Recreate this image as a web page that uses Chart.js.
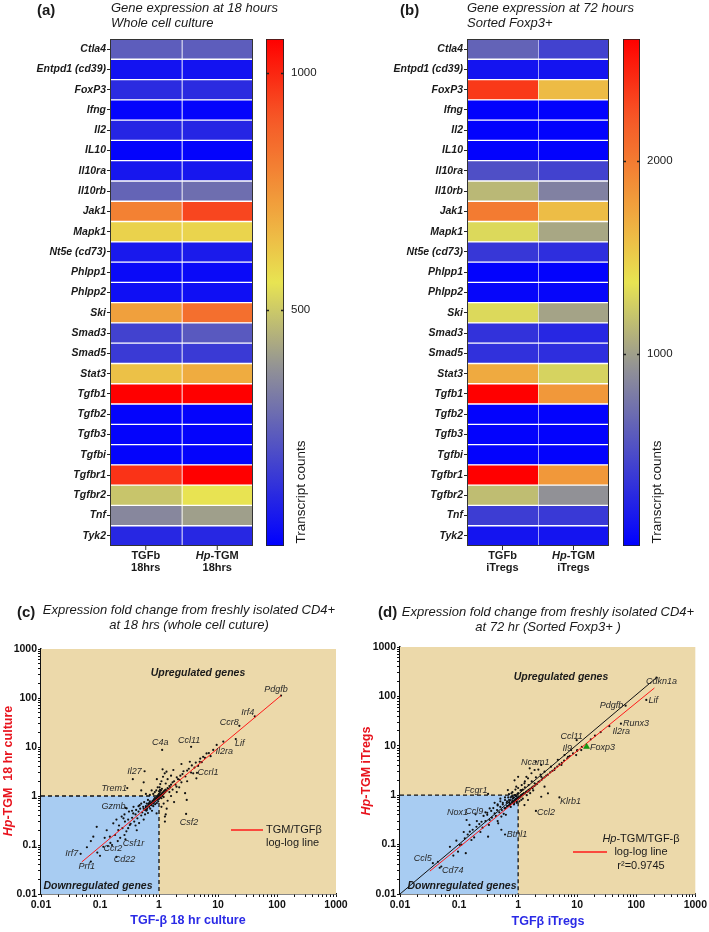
<!DOCTYPE html>
<html>
<head>
<meta charset="utf-8">
<script src="https://cdn.jsdelivr.net/npm/chart.js@4.4.1/dist/chart.umd.min.js"></script>
<style>
  html, body { margin: 0; padding: 0; background: #fff; }
  #page { position: relative; width: 709px; height: 932px; overflow: hidden; }
  #page canvas { position: absolute; left: 0; top: 0; }
</style>
</head>
<body>
<div id="page">
  <canvas id="heatA" width="709" height="932"></canvas>
  <canvas id="barA" width="709" height="932"></canvas>
  <canvas id="heatB" width="709" height="932"></canvas>
  <canvas id="barB" width="709" height="932"></canvas>
  <canvas id="scatC" width="709" height="932"></canvas>
  <canvas id="scatD" width="709" height="932"></canvas>
</div>
<script>
// ---- heatmap data ----
const genes = ['Ctla4', 'Entpd1 (cd39)', 'FoxP3', 'Ifng', 'Il2', 'IL10', 'Il10ra', 'Il10rb', 'Jak1', 'Mapk1',
  'Nt5e (cd73)', 'Phlpp1', 'Phlpp2', 'Ski', 'Smad3', 'Smad5', 'Stat3', 'Tgfb1', 'Tgfb2', 'Tgfb3', 'Tgfbi',
  'Tgfbr1', 'Tgfbr2', 'Tnf', 'Tyk2'];
const colsA = [['TGFb', '18hrs'], ['Hp-TGM', '18hrs']];
const colsB = [['TGFb', 'iTregs'], ['Hp-TGM', 'iTregs']];
const tgfb18 = [240, 50, 110, 10, 95, 10, 60, 260, 800, 600, 65, 25, 40, 720, 170, 150, 640, 1072, 10, 10, 10, 975, 490, 350, 100];
const hptgm18 = [240, 50, 110, 10, 95, 10, 60, 285, 940, 595, 70, 25, 40, 845, 230, 150, 690, 1072, 10, 10, 10, 1072, 560, 405, 100];
const tgfbReg = [630, 130, 2370, 20, 20, 20, 500, 1135, 2000, 1310, 350, 20, 40, 1310, 315, 310, 1710, 2635, 20, 20, 20, 2635, 1160, 390, 130];
const hptgmReg = [420, 130, 1610, 20, 20, 20, 420, 820, 1600, 1040, 290, 20, 40, 1020, 250, 290, 1280, 1820, 20, 20, 20, 1820, 920, 360, 130];
const maxA = 1072, maxB = 2635;
const ticksA = [500, 1000];
const ticksB = [1000, 2000];

// ---- scatter data (fold change vs freshly isolated CD4+) ----
const logTicks = [0.01, 0.1, 1, 10, 100, 1000];
const pointsC = [
  [0.077,0.148],[0.088,0.235],[0.114,0.092],[0.147,0.148],[0.168,0.277],[0.204,0.202],[0.233,0.38],[0.265,0.30],
  [0.283,0.56],[0.32,0.256],[0.366,0.44],[0.42,0.20],[0.47,0.65],[0.58,0.52],[0.65,0.83],[0.75,0.65],[0.85,0.91],
  [0.91,0.44],[0.06,0.09],[0.1,0.06],[0.12,0.14],[0.13,0.2],[0.15,0.11],[0.18,0.16],[0.19,0.33],[0.21,0.25],
  [0.22,0.14],[0.24,0.22],[0.26,0.42],[0.28,0.19],[0.3,0.33],[0.31,0.48],[0.33,0.27],[0.35,0.36],[0.37,0.6],
  [0.38,0.3],[0.4,0.42],[0.41,0.52],[0.43,0.35],[0.45,0.48],[0.46,0.28],[0.48,0.55],[0.5,0.4],[0.5,0.7],
  [0.52,0.46],[0.54,0.6],[0.55,0.33],[0.56,0.75],[0.58,0.42],[0.6,0.62],[0.61,0.5],[0.62,0.7],[0.63,0.56],
  [0.65,0.45],[0.66,0.68],[0.68,0.6],[0.7,0.78],[0.71,0.55],[0.72,0.66],[0.74,0.72],[0.76,0.5],[0.78,0.8],
  [0.8,0.7],[0.8,0.62],[0.82,0.85],[0.84,0.76],[0.86,0.68],[0.88,0.8],[0.9,0.9],[0.92,0.72],[0.94,0.84],
  [0.96,0.95],[0.97,0.78],[0.98,0.88],[0.55,0.55],[0.6,0.58],[0.65,0.62],[0.7,0.7],[0.75,0.74],[0.8,0.78],
  [0.85,0.82],[0.9,0.86],[0.95,0.92],[0.68,0.72],[0.73,0.68],[0.78,0.73],[0.83,0.8],[0.88,0.9],[0.93,0.96],
  [0.99,0.97],[0.62,0.52],[0.45,0.62],[0.35,0.5],[0.25,0.35],[0.16,0.1],[0.09,0.07],[0.07,0.12],[0.2,0.12],
  [0.3,0.22],[0.4,0.25],[0.26,0.16],
  [1.0,1.0],[1.02,0.98],[1.05,1.06],[1.08,1.02],[1.1,1.12],[1.12,1.05],[1.15,1.18],[1.18,1.1],[1.2,1.25],
  [1.22,1.15],[1.25,1.3],[1.28,1.2],[1.3,1.35],[1.35,1.28],[1.4,1.45],[1.45,1.38],[1.5,1.6],[1.55,1.5],
  [1.6,1.7],[1.0,1.1],[1.03,0.92],[1.06,0.95],[1.1,0.9],[1.15,1.0],[1.2,0.95],[0.98,1.05],[0.96,1.02],
  [1.04,1.2],[1.08,1.3],[1.12,1.4],[1.0,1.25],[1.02,1.5],[1.05,1.75],[1.1,2.0],[1.17,2.47],[1.34,3.13],
  [1.75,3.39],[1.98,1.55],[2.25,2.13],[2.77,1.14],[2.95,0.83],[3.33,5.0],[3.8,2.9],[4.3,2.29],[4.9,5.0],
  [5.6,6.3],[6.4,7.4],[8.3,8.7],[9.5,11],[1.26,0.38],[1.3,0.42],[1.26,0.30],[1.04,1.33],
  [1.7,1.9],[1.8,2.0],[1.9,1.7],[2.0,2.4],[2.1,2.2],[2.3,2.6],[2.4,1.9],[2.5,2.8],[2.6,3.2],[2.8,2.5],
  [3.0,3.3],[3.2,3.6],[3.5,3.0],[3.6,4.2],[4.0,3.8],[4.2,4.8],[4.6,4.1],[5.0,5.8],[5.3,4.9],[6.0,6.0],
  [7.0,7.5],[7.5,6.5],[1.3,1.8],[1.4,2.2],[1.5,1.2],[1.6,1.0],[1.7,1.35],[1.8,0.75],[2.0,1.2],[2.2,1.5],
  [1.2,0.7],[1.4,0.8],[1.1,0.6],[1.35,0.55],[1.6,2.6],[1.25,2.9],[1.15,3.5],[2.4,4.5],[3.0,2.0],[0.9,1.3],
  [0.85,1.2],[0.95,1.5],[0.8,1.1],[0.7,1.05],[0.75,1.3],[0.92,2.2],[0.6,1.1],[0.5,1.3],[0.36,2.2],[0.55,1.9]
];
const geneNamesC = ['Pdgfb', 'Irf4', 'Ccr8', 'Lif', 'Il2ra', 'C4a', 'Ccl11', 'Ccrl1', 'Il27', 'Trem1', 'Gzmb',
  'Csf2', 'Csf1r', 'Ccr2', 'Cd22', 'Irf7', 'Prf1'];
const geneXC = [117, 42, 23, 20, 12.3, 1.13, 3.5, 4.4, 0.57, 0.29, 0.27, 2.88, 0.27, 0.136, 0.19, 0.047, 0.07];
const geneYC = [112, 42, 27, 14.5, 12.9, 8.7, 10.1, 2.97, 3.2, 1.45, 0.57, 0.43, 0.13, 0.095, 0.057, 0.066, 0.046];
const fitC = [[0.049, 0.045], [117, 112]];

const pointsD = [
  [0.13,0.067],[0.103,0.098],[0.125,0.134],[0.162,0.124],[0.152,0.183],[0.197,0.23],[0.24,0.29],[0.134,0.315],
  [0.33,0.315],[0.40,0.43],[0.46,0.27],[0.52,0.37],[0.59,0.54],[0.72,0.63],[0.40,0.70],[0.33,0.54],[0.82,0.86],
  [0.77,1.09],[0.67,1.27],[0.52,0.2],[0.31,0.145],[0.096,0.072],[0.05,0.036],[0.044,0.045],
  [0.07,0.09],[0.08,0.06],[0.09,0.12],[0.11,0.1],[0.14,0.16],[0.17,0.2],[0.18,0.14],[0.2,0.3],[0.22,0.26],
  [0.25,0.22],[0.26,0.38],[0.28,0.3],[0.3,0.4],[0.32,0.25],[0.35,0.48],[0.36,0.35],[0.38,0.55],[0.42,0.38],
  [0.44,0.5],[0.45,0.62],[0.48,0.45],[0.5,0.58],[0.5,0.75],[0.53,0.5],[0.55,0.65],[0.57,0.42],[0.6,0.8],
  [0.62,0.55],[0.64,0.7],[0.66,0.6],[0.68,0.9],[0.7,0.72],[0.73,0.8],[0.75,0.58],[0.78,0.95],[0.8,0.75],
  [0.84,0.9],[0.86,0.7],[0.88,1.0],[0.9,0.82],[0.93,0.95],[0.95,0.75],[0.97,1.05],[0.23,0.18],[0.15,0.25],
  [0.12,0.18],[0.45,0.3],[0.62,0.4],[0.28,0.45],
  [0.6,0.55],[0.65,0.6],[0.7,0.62],[0.72,0.68],[0.75,0.66],[0.78,0.72],[0.8,0.7],[0.82,0.76],[0.85,0.74],
  [0.88,0.8],[0.9,0.78],[0.92,0.84],[0.95,0.82],[0.97,0.88],[1.0,0.85],[1.02,0.9],[1.05,0.88],[1.08,0.95],
  [1.1,0.92],[1.12,1.0],[1.15,0.98],[1.18,1.05],[1.2,1.02],[1.25,1.1],[1.3,1.08],[1.35,1.15],[1.4,1.2],
  [1.45,1.18],[1.5,1.28],[1.55,1.25],[1.6,1.35],[1.7,1.42],[1.75,1.38],[1.8,1.5],[1.9,1.55],[2.0,1.65],
  [2.1,1.7],[2.2,1.85],[2.3,1.9],[2.5,2.05],[2.6,2.2],[2.8,2.3],[3.0,2.5],[3.2,2.6],[3.5,2.9],[3.8,3.1],
  [4.2,3.5],[4.6,3.8],[5.0,4.2],[5.5,4.5],[6.0,5.0],[6.8,5.6],[7.5,6.2],[8.5,7.0],[10,8.2],[12,9.5],
  [17,13.5],[20,16],[25,19],
  [0.9,1.0],[1.0,1.1],[1.1,1.25],[1.2,1.3],[0.8,0.95],[0.7,0.8],[1.3,1.45],[1.5,1.6],[1.7,1.9],[2.0,2.3],
  [2.4,2.6],[1.05,0.75],[1.2,0.85],[1.4,1.0],[1.6,1.1],[1.8,1.25],[0.95,0.7],[0.85,0.65],[0.75,0.9],
  [0.65,0.75],[0.55,0.7],[0.6,0.9],[0.5,0.85],[0.45,0.65],[0.8,1.15],[0.9,1.3],[1.0,1.4],[1.15,1.6],
  [1.3,1.9],[0.7,1.05],
  [1.13,1.27],[1.28,1.74],[1.47,2.2],[1.68,2.78],[1.9,3.24],[1.38,2.36],[2.46,2.36],[2.8,3.0],[3.6,3.78],
  [4.7,5.2],[6.1,6.5],[7.9,8.2],[1.9,1.74],[2.8,1.49],[3.2,1.09],[2.46,0.93],[1.47,0.8],[1.28,0.63],
  [1.13,0.8],[2.46,4.1],[2.0,4.8],[1.57,3.5],[0.93,1.49],[0.87,2.0],[1.0,2.36],[4.1,3.24],[5.4,4.1],
  [7.0,6.0],[9.6,6.5],[11.7,8.2]
];
const geneNamesD = ['Cdkn1a', 'Lif', 'Pdgfb', 'Runx3', 'Il2ra', 'Ccl11', 'Il9', 'Ncam1', 'Fcgr1', 'Klrb1',
  'Ccl2', 'Nox1', 'Ccl9', 'Btnl1', 'Ccl5', 'Cd74'];
const geneXD = [220, 148, 66, 55, 35, 9.8, 10, 2.2, 0.31, 5, 2.0, 0.19, 0.3, 0.6, 0.036, 0.047];
const geneYD = [240, 85, 65, 28, 25, 13, 7.9, 3.3, 1.06, 0.9, 0.48, 0.41, 0.44, 0.16, 0.042, 0.034];
const foxp3D = [14.4, 9.6];
const fitD = [[0.032, 0.029], [203, 148]];
const identityD = [[0.01, 0.01], [220, 240]];

// ---- label placement (pixels, relative to each gene's point) ----
const offsetsC = [[-5,-6],[-7,-4],[-10,-3],[4,4],[1,10],[-2,-7],[-2,-6],[11,0],[-10,0],[-13,0],[-12,-1],
  [3,9],[8,4],[5,2],[8,3],[-9,0],[-4,5]];
const offsetsD = [[5,4],[7,1],[-14,0],[15,0],[12,5],[-5,-4],[-10,-2],[-3,-7],[-12,-3],[11,4],[10,2],
  [-18,-2],[-13,-1],[12,0],[-10,-5],[13,3]];

// ---- setup ----
const FONT = 'Arial, "Liberation Sans", Helvetica, sans-serif';
Chart.defaults.font.family = FONT;
Chart.defaults.color = '#1a1a1a';
Chart.defaults.animation = false;
Chart.defaults.responsive = false;
Chart.defaults.devicePixelRatio = 1;
Chart.defaults.events = [];
Chart.defaults.plugins.legend.display = false;
Chart.defaults.plugins.tooltip.enabled = false;

const TAN = 'rgb(236,217,170)';
const BLUE = 'rgb(168,204,242)';

// blue -> grey -> yellow -> orange -> red
const cmapStops = [[0, [0, 0, 255]], [0.35, [145, 145, 150]], [0.52, [232, 228, 82]],
  [0.66, [240, 165, 62]], [0.85, [246, 85, 38]], [1, [255, 0, 0]]];
function cmap(f) {
  f = Math.max(0, Math.min(1, f));
  for (let i = 1; i < cmapStops.length; i++) {
    const [f0, c0] = cmapStops[i - 1], [f1, c1] = cmapStops[i];
    if (f <= f1) {
      const t = (f - f0) / (f1 - f0);
      return 'rgb(' + c0.map((v, k) => Math.round(v + (c1[k] - v) * t)).join(',') + ')';
    }
  }
  return 'rgb(255,0,0)';
}

// text with "Hp" in italics
function txt(ctx, s, x, y, o) {
  o = o || {};
  const size = o.size || 11, w = o.bold ? 'bold ' : '', it = o.italic ? 'italic ' : '';
  const base = it + w + size + 'px ' + FONT;
  const hp = 'italic ' + w + size + 'px ' + FONT;
  const parts = s.startsWith('Hp') ? [['Hp', hp], [s.slice(2), base]] : [[s, base]];
  ctx.save();
  ctx.translate(x, y);
  if (o.rot) ctx.rotate(o.rot);
  ctx.fillStyle = o.color || '#1a1a1a';
  ctx.textBaseline = 'middle';
  ctx.textAlign = 'left';
  let total = 0;
  parts.forEach(p => { ctx.font = p[1]; p.push(ctx.measureText(p[0]).width); total += p[2]; });
  let cx = o.align === 'center' ? -total / 2 : (o.align === 'right' ? -total : 0);
  parts.forEach(p => { ctx.font = p[1]; ctx.fillText(p[0], cx, 0); cx += p[2]; });
  ctx.restore();
}

function heatmap(id, left, right, cols, valsA, valsB, vmax, titles) {
  return new Chart(document.getElementById(id), {
    type: 'bar',
    data: {
      labels: genes,
      datasets: [
        { data: genes.map(() => 1), backgroundColor: valsA.map(v => cmap(v / vmax)) },
        { data: genes.map(() => 1), backgroundColor: valsB.map(v => cmap(v / vmax)) }
      ]
    },
    options: {
      indexAxis: 'y',
      layout: { padding: { left: left - 110, right: 709 - right, top: 39, bottom: 932 - 546 } },
      datasets: { bar: { barPercentage: 1, categoryPercentage: 1, borderColor: '#fff',
        borderWidth: { top: 1, bottom: 1, left: 0, right: 0 }, borderSkipped: false } },
      scales: {
        x: { type: 'linear', min: 0, max: 2, stacked: true, display: false },
        y: {
          stacked: true,
          afterFit: s => { s.width = 110; },
          grid: { offset: false, drawOnChartArea: false, tickLength: 3, color: '#222' },
          border: { display: false },
          ticks: { autoSkip: false, padding: 1, color: '#1a1a1a',
            font: { size: 10.5, style: 'italic', weight: 'bold' } }
        }
      }
    },
    plugins: [{
      id: 'heatDeco',
      afterDatasetsDraw(chart) {
        const ctx = chart.ctx, a = chart.chartArea, xs = chart.scales.x;
        ctx.save();
        const mx = Math.round(xs.getPixelForValue(1)) + 0.5;
        ctx.strokeStyle = 'rgba(255,255,255,0.6)';
        ctx.lineWidth = 1;
        ctx.beginPath(); ctx.moveTo(mx, a.top); ctx.lineTo(mx, a.bottom); ctx.stroke();
        ctx.strokeStyle = '#333';
        ctx.strokeRect(a.left + 0.5, a.top + 0.5, a.right - a.left - 1, a.bottom - a.top - 1);
        cols.forEach((c, i) => {
          const cx = xs.getPixelForValue(i + 0.5);
          ctx.beginPath(); ctx.moveTo(cx, a.bottom); ctx.lineTo(cx, a.bottom + 4); ctx.stroke();
          txt(ctx, c[0], cx, a.bottom + 10, { size: 11, bold: true, align: 'center' });
          txt(ctx, c[1], cx, a.bottom + 22, { size: 11, bold: true, align: 'center' });
        });
        ctx.restore();
        txt(ctx, titles.letter, titles.lx, 11, { size: 15, bold: true });
        txt(ctx, titles.l1, titles.tx, 8, { size: 13, italic: true });
        txt(ctx, titles.l2, titles.tx, 23.5, { size: 13, italic: true });
      }
    }]
  });
}

function colorbar(id, left, right, vmax, ticks) {
  return new Chart(document.getElementById(id), {
    type: 'bar',
    data: {
      labels: ['Transcript counts'],
      datasets: [{
        data: [vmax],
        backgroundColor: c => {
          const a = c.chart.chartArea;
          if (!a) return 'blue';
          const g = c.chart.ctx.createLinearGradient(0, a.bottom, 0, a.top);
          for (let f = 0; f <= 1.0001; f += 0.02) g.addColorStop(Math.min(f, 1), cmap(f));
          return g;
        },
        borderColor: '#222', borderWidth: 1.2, borderSkipped: false,
        barPercentage: 1, categoryPercentage: 1
      }]
    },
    options: {
      layout: { padding: { left: left, right: 709 - right - 40, top: 39, bottom: 932 - 546 } },
      scales: {
        x: { display: false },
        y: {
          position: 'right', min: 0, max: vmax,
          afterFit: s => { s.width = 40; },
          afterBuildTicks: s => { s.ticks = ticks.map(v => ({ value: v })); },
          grid: { drawOnChartArea: false, drawTicks: false },
          border: { display: false },
          ticks: { padding: 7, color: '#1a1a1a', font: { size: 11.5 }, callback: v => String(v) }
        }
      }
    },
    plugins: [{
      id: 'barDeco',
      afterDraw(chart) {
        const ctx = chart.ctx, a = chart.chartArea, ys = chart.scales.y;
        ctx.save();
        ctx.strokeStyle = '#222';
        ctx.lineWidth = 1.5;
        ticks.forEach(v => {
          const y = Math.round(ys.getPixelForValue(v)) + 0.5;
          ctx.beginPath(); ctx.moveTo(a.left, y); ctx.lineTo(a.left + 3, y);
          ctx.moveTo(a.right - 3, y); ctx.lineTo(a.right, y); ctx.stroke();
        });
        ctx.restore();
        txt(ctx, 'Transcript counts', a.right + 17, 492, { size: 13.5, align: 'center', rot: -Math.PI / 2 });
      }
    }]
  });
}

function logTickList() {
  const out = [];
  logTicks.forEach((m, i) => {
    out.push(m);
    if (i < logTicks.length - 1) for (let k = 2; k <= 9; k++) out.push(m * k);
  });
  return out;
}

function logAxis(horizontal) {
  return {
    type: 'logarithmic', min: 0.01, max: 1000,
    afterFit: s => { if (horizontal) s.height = 20; else s.width = 41; },
    afterBuildTicks: s => { s.ticks = logTickList().map(v => ({ value: v })); },
    grid: { drawOnChartArea: false, tickLength: 3, color: '#111', lineWidth: 1 },
    border: { color: '#111', width: 1.5 },
    ticks: {
      autoSkip: false, maxRotation: 0, padding: horizontal ? 2 : 1, color: '#111',
      font: { size: 10.5, weight: 'bold' },
      callback: v => logTicks.includes(v) ? String(v) : ''
    }
  };
}

const xy = arr => arr.map(p => ({ x: p[0], y: p[1] }));
const dotStyle = { type: 'line', showLine: false, pointRadius: 1.1, pointBackgroundColor: '#111',
  pointBorderWidth: 0, borderWidth: 0 };

function scatterPanel(id, area, extraSets, names, gx, gy, offs, deco) {
  const datasets = [
    { type: 'line', data: [{ x: 0.01, y: 1 }, { x: 1, y: 1 }], fill: 'start', backgroundColor: BLUE,
      borderColor: '#111', borderWidth: 1.3, borderDash: [4, 3], pointRadius: 0, order: 9 },
    { type: 'line', data: [{ x: 1, y: 1 }, { x: 1, y: 0.01 }], fill: false,
      borderColor: '#111', borderWidth: 1.3, borderDash: [4, 3], pointRadius: 0, order: 8 },
    Object.assign({ data: gx.map((v, i) => ({ x: v, y: gy[i] })), order: 6 }, dotStyle)
  ].concat(extraSets);
  return new Chart(document.getElementById(id), {
    type: 'line',
    data: { datasets },
    options: {
      layout: { padding: { left: area.left - 41, right: 709 - area.right, top: area.top, bottom: 932 - area.bottom - 20 } },
      scales: { x: logAxis(true), y: logAxis(false) },
      elements: { line: { tension: 0 } }
    },
    plugins: [{
      id: 'scatDeco',
      beforeDatasetsDraw(chart) {
        const ctx = chart.ctx, a = chart.chartArea;
        ctx.save(); ctx.fillStyle = TAN; ctx.fillRect(a.left, a.top, a.right - a.left, a.bottom - a.top); ctx.restore();
      },
      afterDatasetsDraw(chart) {
        const ctx = chart.ctx, xs = chart.scales.x, ys = chart.scales.y;
        names.forEach((n, i) => {
          txt(ctx, n, xs.getPixelForValue(gx[i]) + offs[i][0], ys.getPixelForValue(gy[i]) + offs[i][1],
            { size: 9, italic: true, color: '#2a2a2a', align: 'center' });
        });
        deco(chart, ctx, xs, ys);
      }
    }]
  });
}

heatmap('heatA', 110, 253, colsA, tgfb18, hptgm18, maxA,
  { letter: '(a)', lx: 37, tx: 111, l1: 'Gene expression at 18 hours', l2: 'Whole cell culture' });
colorbar('barA', 266, 284, maxA, ticksA);
heatmap('heatB', 467, 609, colsB, tgfbReg, hptgmReg, maxB,
  { letter: '(b)', lx: 400, tx: 467, l1: 'Gene expression at 72 hours', l2: 'Sorted Foxp3+' });
colorbar('barB', 623, 640, maxB, ticksB);

scatterPanel('scatC', { left: 41, right: 336, top: 649, bottom: 894 }, [
  Object.assign({ data: xy(pointsC), order: 7 }, dotStyle),
  { type: 'line', data: xy(fitC), borderColor: '#ff1a1a', borderWidth: 1, pointRadius: 0, order: 1 }
], geneNamesC, geneXC, geneYC, offsetsC, (chart, ctx) => {
  txt(ctx, 'Upregulated genes', 198, 673, { size: 10.5, bold: true, italic: true, align: 'center' });
  txt(ctx, 'Downregulated genes', 98, 886, { size: 10.5, bold: true, italic: true, align: 'center' });
  ctx.save(); ctx.strokeStyle = '#ff1a1a'; ctx.lineWidth = 1.5;
  ctx.beginPath(); ctx.moveTo(231, 830); ctx.lineTo(263, 830); ctx.stroke(); ctx.restore();
  txt(ctx, 'TGM/TGFβ', 266, 830, { size: 11 });
  txt(ctx, 'log-log line', 266, 843, { size: 11 });
  txt(ctx, '(c)', 17, 613, { size: 15, bold: true });
  txt(ctx, 'Expression fold change from freshly isolated CD4+', 189, 610, { size: 13, italic: true, align: 'center' });
  txt(ctx, 'at 18 hrs (whole cell cuture)', 189, 625, { size: 13, italic: true, align: 'center' });
  txt(ctx, 'Hp-TGM  18 hr culture', 9, 771, { size: 12.5, bold: true, color: '#e8141e', align: 'center', rot: -Math.PI / 2 });
  txt(ctx, 'TGF-β 18 hr culture', 188, 921, { size: 12.5, bold: true, color: '#2a2ae6', align: 'center' });
});

scatterPanel('scatD', { left: 400, right: 696, top: 647, bottom: 894 }, [
  Object.assign({ data: xy(pointsD), order: 7 }, dotStyle),
  { type: 'line', data: xy(identityD), borderColor: '#111', borderWidth: 1, pointRadius: 0, order: 2 },
  { type: 'line', data: xy(fitD), borderColor: '#ff1a1a', borderWidth: 1, pointRadius: 0, order: 1 },
  { type: 'line', showLine: false, data: xy([foxp3D]), pointStyle: 'triangle', pointRadius: 3.5,
    pointBackgroundColor: '#119a11', pointBorderColor: '#0a7a0a', pointBorderWidth: 0.5, order: 0 }
], geneNamesD, geneXD, geneYD, offsetsD, (chart, ctx, xs, ys) => {
  txt(ctx, 'Foxp3', xs.getPixelForValue(foxp3D[0]) + 16, ys.getPixelForValue(foxp3D[1]) + 0.5,
    { size: 9, italic: true, color: '#2a2a2a', align: 'center' });
  txt(ctx, 'Upregulated genes', 561, 677, { size: 10.5, bold: true, italic: true, align: 'center' });
  txt(ctx, 'Downregulated genes', 462, 886, { size: 10.5, bold: true, italic: true, align: 'center' });
  ctx.save(); ctx.strokeStyle = '#ff1a1a'; ctx.lineWidth = 1.5;
  ctx.beginPath(); ctx.moveTo(573, 852); ctx.lineTo(607, 852); ctx.stroke(); ctx.restore();
  txt(ctx, 'Hp-TGM/TGF-β', 641, 839, { size: 11, align: 'center' });
  txt(ctx, 'log-log line', 641, 852, { size: 11, align: 'center' });
  txt(ctx, 'r²=0.9745', 641, 866, { size: 11, align: 'center' });
  txt(ctx, '(d)', 378, 613, { size: 15, bold: true });
  txt(ctx, 'Expression fold change from freshly isolated CD4+', 548, 612, { size: 13, italic: true, align: 'center' });
  txt(ctx, 'at 72 hr (Sorted Foxp3+ )', 548, 627, { size: 13, italic: true, align: 'center' });
  txt(ctx, 'Hp-TGM iTregs', 367, 771, { size: 12.5, bold: true, color: '#e8141e', align: 'center', rot: -Math.PI / 2 });
  txt(ctx, 'TGFβ iTregs', 548, 922, { size: 12.5, bold: true, color: '#2a2ae6', align: 'center' });
});
</script>
</body>
</html>
